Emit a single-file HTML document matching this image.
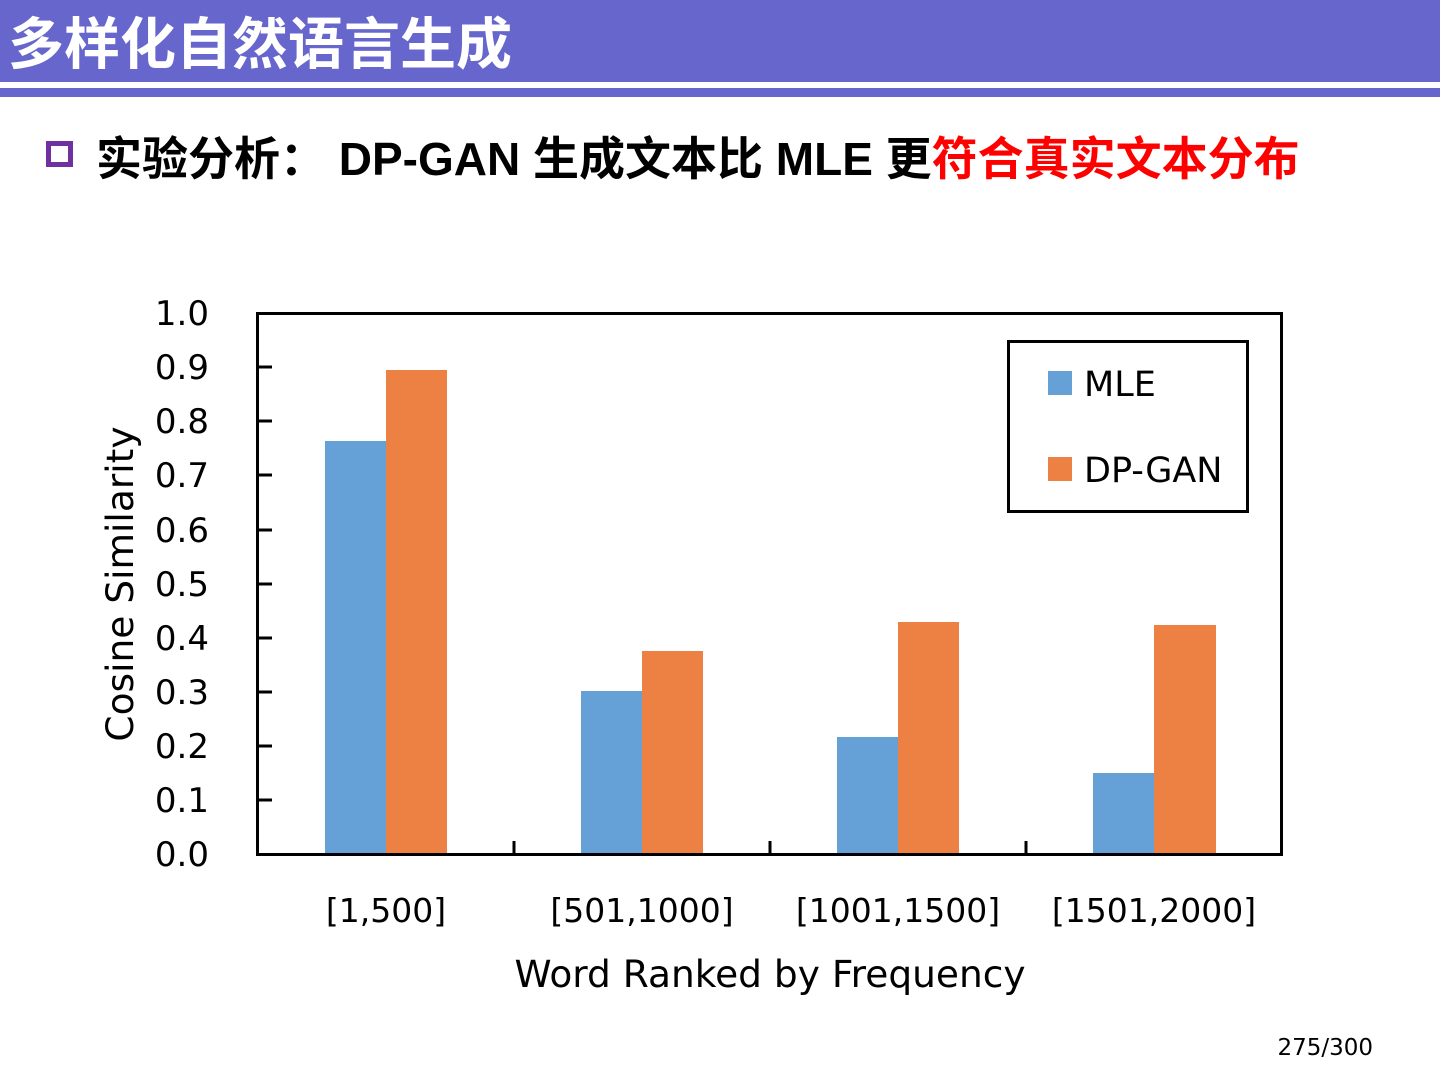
<!DOCTYPE html>
<html><head><meta charset="utf-8"><style>
body{margin:0;width:1440px;height:1080px;background:#fff;overflow:hidden;position:relative;font-family:"DejaVu Sans","Liberation Sans",sans-serif}
.a{position:absolute}
</style></head><body>
<div class="a" style="left:0;top:0;width:1440px;height:82px;background:#6666cc"></div>
<div class="a" style="left:0;top:88px;width:1440px;height:9px;background:#6666cc"></div>
<div class="a" style="left:8px;top:6px;font:bold 56px 'Noto Sans CJK SC',sans-serif;color:#fff;line-height:70px;letter-spacing:0px">多样化自然语言生成</div>
<div class="a" style="left:46px;top:141px;width:27px;height:26px;border:5px solid #7030a0;box-sizing:border-box"></div>
<div class="a" style="left:96px;top:128px;font:bold 46px 'Liberation Sans','Noto Sans CJK SC',sans-serif;line-height:62px;color:#000;white-space:nowrap;letter-spacing:0px">实验分析： DP-GAN 生成文本比 MLE 更<span style="color:#ff0000">符合真实文本分布</span></div>
<svg class="a" style="left:0;top:0" width="1440" height="1080">
<g fill="#65a0d6"><rect x="325" y="441" width="61" height="414"/><rect x="581" y="691" width="61" height="164"/><rect x="837" y="737" width="61" height="118"/><rect x="1093" y="773" width="61" height="82"/></g>
<g fill="#ed8144"><rect x="386" y="370" width="61" height="485"/><rect x="642" y="651" width="61" height="204"/><rect x="898" y="622" width="61" height="233"/><rect x="1154" y="625" width="62" height="230"/></g>
<rect x="257.5" y="313.5" width="1024" height="541" fill="none" stroke="#000" stroke-width="3"/>
<g stroke="#000" stroke-width="3">
<line x1="257" y1="367" x2="272" y2="367"/><line x1="257" y1="421" x2="272" y2="421"/><line x1="257" y1="475" x2="272" y2="475"/><line x1="257" y1="530" x2="272" y2="530"/><line x1="257" y1="584" x2="272" y2="584"/><line x1="257" y1="638" x2="272" y2="638"/><line x1="257" y1="692" x2="272" y2="692"/><line x1="257" y1="746" x2="272" y2="746"/><line x1="257" y1="800" x2="272" y2="800"/>
<line x1="514" y1="841" x2="514" y2="855"/><line x1="770" y1="841" x2="770" y2="855"/><line x1="1026" y1="841" x2="1026" y2="855"/>
</g>
<g font-family="DejaVu Sans" font-size="34" text-anchor="end" fill="#000">
<text x="209" y="325">1.0</text><text x="209" y="379">0.9</text><text x="209" y="433">0.8</text><text x="209" y="487">0.7</text><text x="209" y="542">0.6</text><text x="209" y="596">0.5</text><text x="209" y="650">0.4</text><text x="209" y="704">0.3</text><text x="209" y="758">0.2</text><text x="209" y="812">0.1</text><text x="209" y="866">0.0</text>
</g>
<g font-family="DejaVu Sans" font-size="33" text-anchor="middle" fill="#000">
<text x="386" y="922">[1,500]</text><text x="642" y="922">[501,1000]</text><text x="898" y="922">[1001,1500]</text><text x="1154" y="922">[1501,2000]</text>
<text x="770" y="987" font-size="37.5">Word Ranked by Frequency</text>
<text transform="translate(133,584) rotate(-90)" font-size="37.5">Cosine Similarity</text>
</g>
<rect x="1008.5" y="341.5" width="239" height="170" fill="#fff" stroke="#000" stroke-width="3"/>
<rect x="1048" y="371" width="24" height="24" fill="#65a0d6"/>
<rect x="1048" y="457" width="24" height="24" fill="#ed8144"/>
<g font-family="DejaVu Sans" font-size="35" fill="#000"><text x="1084" y="396">MLE</text><text x="1084" y="482">DP-GAN</text></g>
<text x="1373" y="1055" font-family="DejaVu Sans" font-size="23" text-anchor="end">275/300</text>
</svg>
</body></html>
